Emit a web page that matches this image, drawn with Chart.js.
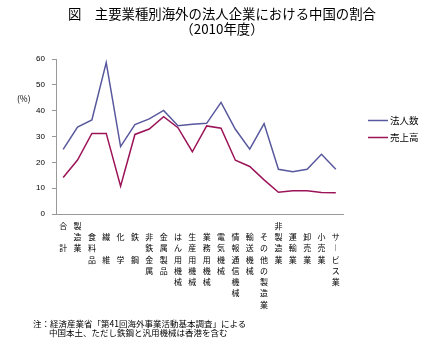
<!DOCTYPE html>
<html>
<head>
<meta charset="utf-8">
<script src="https://cdn.jsdelivr.net/npm/chart.js@4"></script>
<style>
  html, body { margin: 0; padding: 0; background: #fff; }
  #wrap { position: relative; width: 447px; height: 356px; overflow: hidden; font-family: "Noto Sans CJK JP", sans-serif; color: #000; }
  #c { position: absolute; left: 0; top: 0; }
  .t { position: absolute; white-space: nowrap; }
</style>
</head>
<body>
<div id="wrap">
  <canvas id="c" width="447" height="356"></canvas>
  <div class="t" style="left:0;width:444px;text-align:center;top:6px;font-size:13.4px;line-height:15px;">図　主要業種別海外の法人企業における中国の割合<br>（2010年度）</div>
  <div class="t" style="left:33px;top:319px;font-size:8.5px;line-height:9px;">注：経済産業省「第41回海外事業活動基本調査」による</div>
  <div class="t" style="left:49px;top:328px;font-size:8.5px;line-height:9px;">中国本土、ただし鉄鋼と汎用機械は香港を含む</div>
</div>
<script>
// Categories (vertical labels, '' = blank row)
const categories = [
  ['合','','計'],
  ['製','造','業'],
  ['','食','料','品'],
  ['','繊','','維'],
  ['','化','','学'],
  ['','鉄','','鋼'],
  ['','非','鉄','金','属'],
  ['','金','属','製','品'],
  ['','は','ん','用','機','械'],
  ['','生','産','用','機','械'],
  ['','業','務','用','機','械'],
  ['','電','気','機','械'],
  ['','情','報','通','信','機','械'],
  ['','輸','送','機','械'],
  ['','そ','の','他','の','製','造','業'],
  ['非','製','造','業'],
  ['','運','輸','業'],
  ['','卸','売','業'],
  ['','小','売','業'],
  ['','サ','︱','ビ','ス','業']
];
const seriesNames = ['法人数', '売上高'];
const corporations = [25, 33.6, 36.4, 58.6, 26.1, 34.6, 36.8, 40.1, 34.2, 34.7, 35.1, 43.2, 32.8, 25.1, 35.0, 17.3, 16.4, 17.3, 23.1, 17.3];
const sales = [14.1, 20.9, 31.2, 31.2, 10.8, 30.8, 32.9, 37.7, 33.4, 24.1, 34.1, 33.2, 20.8, 18.4, 13.2, 8.4, 9.0, 9.0, 8.3, 8.2];
const yTicks = [0, 10, 20, 30, 40, 50, 60];
const unitLabel = '(%)';

const colors = ['#58589e', '#9c1458'];
const FONT = '"Noto Sans CJK JP", "Noto Sans", sans-serif';

const extras = {
  id: 'extras',
  afterDraw(chart) {
    const ctx = chart.ctx;
    ctx.save();
    ctx.fillStyle = '#000';
    ctx.font = '8.5px ' + FONT;
    ctx.textBaseline = 'middle';
    ctx.textAlign = 'left';
    ctx.fillText(unitLabel, 17, 99);
    // legend
    chart.data.datasets.forEach((ds, i) => {
      const y = 120.5 + i * 17;
      ctx.strokeStyle = ds.borderColor;
      ctx.lineWidth = 1.5;
      ctx.beginPath();
      ctx.moveTo(368, y);
      ctx.lineTo(388, y);
      ctx.stroke();
      ctx.font = '9.5px ' + FONT;
      ctx.fillStyle = '#000';
      ctx.fillText(ds.label, 390, y);
    });
    ctx.restore();
  }
};

new Chart(document.getElementById('c'), {
  type: 'line',
  data: {
    labels: categories,
    datasets: [
      { label: seriesNames[0], data: corporations, borderColor: colors[0], backgroundColor: colors[0], borderWidth: 1.5, pointRadius: 0, tension: 0, fill: false },
      { label: seriesNames[1], data: sales, borderColor: colors[1], backgroundColor: colors[1], borderWidth: 1.5, pointRadius: 0, tension: 0, fill: false }
    ]
  },
  options: {
    responsive: false,
    animation: false,
    layout: { padding: { left: 0, right: 104, top: 59, bottom: 0 } },
    plugins: { legend: { display: false }, title: { display: false }, tooltip: { enabled: false } },
    scales: {
      x: {
        type: 'category',
        offset: true,
        afterFit(scale) { scale.height = 142; },
        grid: { display: true, drawOnChartArea: false, drawTicks: false, color: 'rgba(0,0,0,0)' },
        border: { display: true, color: '#999', width: 1, dash: [1, 1] },
        ticks: {
          autoSkip: false, maxRotation: 0, minRotation: 0, padding: 6,
          color: '#000',
          font: { family: FONT, size: 8, lineHeight: '11.3px' }
        }
      },
      y: {
        min: 0, max: 60,
        afterFit(scale) { scale.width = 56; },
        afterBuildTicks(scale) { scale.ticks = yTicks.map(v => ({ value: v })); },
        grid: { display: true, drawOnChartArea: false, drawTicks: true, tickLength: 4, color: '#999' },
        border: { display: true, color: '#999', width: 1 },
        ticks: {
          padding: 7, color: '#000',
          font: { family: '"Liberation Sans", sans-serif', size: 8 }
        }
      }
    }
  },
  plugins: [extras]
});
</script>
</body>
</html>
